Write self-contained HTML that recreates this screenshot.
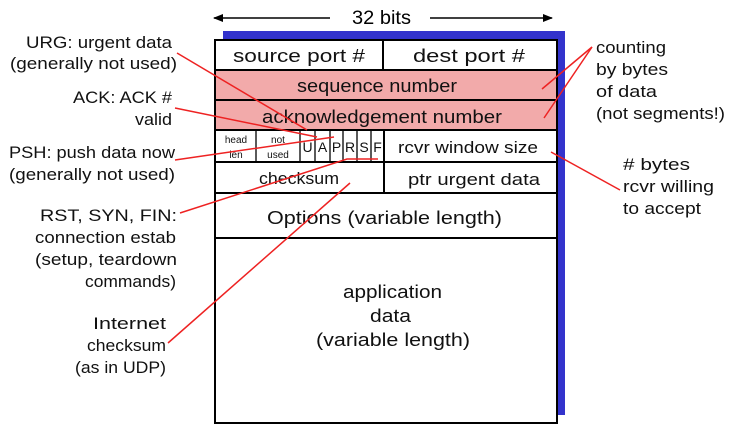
<!DOCTYPE html>
<html><head><meta charset="utf-8"><style>
html,body{margin:0;padding:0;background:#fff;}
svg{display:block;font-family:"Liberation Sans",sans-serif;}
</style></head><body>
<svg width="740" height="431" viewBox="0 0 740 431" xmlns="http://www.w3.org/2000/svg">
<defs><marker id="ar" markerWidth="10" markerHeight="8" refX="9" refY="4" orient="auto" markerUnits="userSpaceOnUse"><path d="M0,0 L10,4 L0,8 z" fill="#000"/></marker></defs>
<line x1="330" y1="18" x2="214" y2="18" stroke="#000" stroke-width="1.5" marker-end="url(#ar)"/>
<line x1="430" y1="18" x2="552" y2="18" stroke="#000" stroke-width="1.5" marker-end="url(#ar)"/>
<text x="352" y="24" font-size="19" textLength="59" lengthAdjust="spacingAndGlyphs">32 bits</text>
<rect x="223" y="31" width="342" height="384" fill="#3333cc"/>
<rect x="215" y="40" width="342" height="383" fill="#fff"/>
<rect x="215" y="70" width="342" height="60" fill="#f2aaaa"/>
<g stroke="#000" stroke-width="2" fill="none">
<rect x="215" y="40" width="342" height="383"/>
<line x1="215" y1="70" x2="557" y2="70"/>
<line x1="215" y1="100" x2="557" y2="100"/>
<line x1="215" y1="130" x2="557" y2="130"/>
<line x1="215" y1="162" x2="557" y2="162"/>
<line x1="215" y1="193" x2="557" y2="193"/>
<line x1="215" y1="238" x2="557" y2="238"/>
<line x1="383" y1="40" x2="383" y2="70"/>
<line x1="384" y1="130" x2="384" y2="193"/>
</g>
<g stroke="#000" stroke-width="1.3">
<line x1="256" y1="130" x2="256" y2="162"/>
<line x1="300" y1="130" x2="300" y2="162"/>
<line x1="315" y1="130" x2="315" y2="162"/>
<line x1="330" y1="130" x2="330" y2="162"/>
<line x1="343" y1="130" x2="343" y2="162"/>
<line x1="357" y1="130" x2="357" y2="162"/>
<line x1="371" y1="130" x2="371" y2="162"/>
</g>
<g font-size="18" fill="#111" lengthAdjust="spacingAndGlyphs">
<text x="233" y="62" textLength="132" lengthAdjust="spacingAndGlyphs">source port #</text>
<text x="413" y="62" textLength="112" lengthAdjust="spacingAndGlyphs">dest port #</text>
<text x="297" y="92" textLength="160" lengthAdjust="spacingAndGlyphs">sequence number</text>
<text x="262" y="123" textLength="240" lengthAdjust="spacingAndGlyphs">acknowledgement number</text>
<text x="398" y="153" font-size="17" textLength="140" lengthAdjust="spacingAndGlyphs">rcvr window size</text>
<text x="259" y="184" font-size="17" textLength="80" lengthAdjust="spacingAndGlyphs">checksum</text>
<text x="408" y="185" font-size="17" textLength="132" lengthAdjust="spacingAndGlyphs">ptr urgent data</text>
<text x="267" y="224" textLength="235" lengthAdjust="spacingAndGlyphs">Options (variable length)</text>
<text x="343" y="298" textLength="99" lengthAdjust="spacingAndGlyphs">application</text>
<text x="370" y="322" textLength="41" lengthAdjust="spacingAndGlyphs">data</text>
<text x="316" y="346" textLength="154" lengthAdjust="spacingAndGlyphs">(variable length)</text>
</g>
<g font-size="10" text-anchor="middle" fill="#111">
<text x="236" y="143">head</text><text x="236" y="158">len</text>
<text x="278" y="143">not</text><text x="278" y="158">used</text>
</g>
<g font-size="14" text-anchor="middle" fill="#111">
<text x="307.5" y="152">U</text><text x="322.5" y="152">A</text><text x="336.5" y="152">P</text>
<text x="350" y="152">R</text><text x="364" y="152">S</text><text x="377.5" y="152">F</text>
</g>
<g font-size="17" fill="#111">
<text x="26" y="48" textLength="146" lengthAdjust="spacingAndGlyphs">URG: urgent data</text>
<text x="10" y="69" textLength="167" lengthAdjust="spacingAndGlyphs">(generally not used)</text>
<text x="73" y="103" textLength="99" lengthAdjust="spacingAndGlyphs">ACK: ACK #</text>
<text x="135" y="125" textLength="37" lengthAdjust="spacingAndGlyphs">valid</text>
<text x="9" y="158" textLength="166" lengthAdjust="spacingAndGlyphs">PSH: push data now</text>
<text x="9" y="180" textLength="166" lengthAdjust="spacingAndGlyphs">(generally not used)</text>
<text x="40" y="221" textLength="137" lengthAdjust="spacingAndGlyphs">RST, SYN, FIN:</text>
<text x="35" y="243" textLength="141" lengthAdjust="spacingAndGlyphs">connection estab</text>
<text x="35" y="265" textLength="142" lengthAdjust="spacingAndGlyphs">(setup, teardown</text>
<text x="85" y="287" textLength="91" lengthAdjust="spacingAndGlyphs">commands)</text>
<text x="93" y="329" textLength="73" lengthAdjust="spacingAndGlyphs">Internet</text>
<text x="87" y="351" textLength="79" lengthAdjust="spacingAndGlyphs">checksum</text>
<text x="75" y="373" textLength="91" lengthAdjust="spacingAndGlyphs">(as in UDP)</text>
<text x="596" y="53" textLength="70" lengthAdjust="spacingAndGlyphs">counting</text>
<text x="596" y="75" textLength="72" lengthAdjust="spacingAndGlyphs">by bytes</text>
<text x="596" y="97" textLength="61" lengthAdjust="spacingAndGlyphs">of data</text>
<text x="596" y="119" textLength="129" lengthAdjust="spacingAndGlyphs">(not segments!)</text>
<text x="623" y="170" textLength="67" lengthAdjust="spacingAndGlyphs"># bytes</text>
<text x="623" y="192" textLength="91" lengthAdjust="spacingAndGlyphs">rcvr willing</text>
<text x="623" y="214" textLength="78" lengthAdjust="spacingAndGlyphs">to accept</text>
</g>
<g stroke="#ee2222" stroke-width="1.5" fill="none">
<line x1="177" y1="53" x2="307" y2="130"/>
<line x1="175" y1="108" x2="317" y2="137"/>
<line x1="175" y1="160" x2="334" y2="137"/>
<polyline points="180,213 347,159 378,159"/>
<line x1="168" y1="343" x2="350" y2="183"/>
<line x1="542" y1="89" x2="592" y2="47"/>
<line x1="544" y1="118" x2="592" y2="47"/>
<line x1="551" y1="152" x2="620" y2="190"/>
</g>
</svg>
</body></html>
